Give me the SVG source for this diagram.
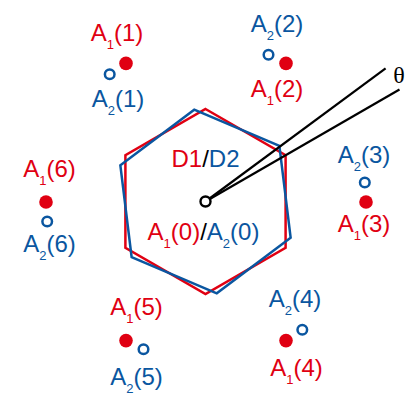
<svg xmlns="http://www.w3.org/2000/svg" width="415" height="415" viewBox="0 0 415 415">
<style>
.t{font-family:"Liberation Sans",Arial,sans-serif;font-size:24px;text-anchor:middle}
.s{font-size:13px}
.r{fill:#e00012}
.b{fill:#0a56a0}
.k{fill:#000}
.hr{fill:none;stroke:#e00012;stroke-width:2.5;stroke-linejoin:miter}
.hb{fill:none;stroke:#0a56a0;stroke-width:2.5;stroke-linejoin:miter}
.dot{fill:#e00012}
.ring{fill:#fff;stroke:#0a56a0;stroke-width:2.5}
</style>
<g id="hexagons">
<polygon id="D1" class="hr" points="0,-92.5 80.1,-46.25 80.1,46.25 0,92.5 -80.1,46.25 -80.1,-46.25" transform="translate(205.5,201.5)"/>
<polygon id="D2" class="hb" points="0,-92.5 80.1,-46.25 80.1,46.25 0,92.5 -80.1,46.25 -80.1,-46.25" transform="translate(205.5,201.5) rotate(-7)"/>
</g>
<g id="connectors" stroke="#000" stroke-width="2.2" fill="none">
<line x1="205.5" y1="201.5" x2="385.6" y2="68.3"/>
<line x1="205.5" y1="201.5" x2="399.5" y2="89.5"/>
</g>
<g id="origin"><circle cx="205.5" cy="201.5" r="5" fill="#fff" stroke="#000" stroke-width="2.4"/></g>
<g id="points">
<circle class="dot" cx="126" cy="63.4" r="6.8"/>
<circle class="dot" cx="286" cy="63.4" r="6.8"/>
<circle class="dot" cx="366" cy="202" r="6.8"/>
<circle class="dot" cx="286" cy="340.6" r="6.8"/>
<circle class="dot" cx="126" cy="340.6" r="6.8"/>
<circle class="dot" cx="46" cy="202" r="6.8"/>
<circle class="ring" cx="109.7" cy="74.2" r="4.8"/>
<circle class="ring" cx="268.5" cy="54.7" r="4.8"/>
<circle class="ring" cx="364.8" cy="182.5" r="4.8"/>
<circle class="ring" cx="302.3" cy="329.8" r="4.8"/>
<circle class="ring" cx="143.5" cy="349.3" r="4.8"/>
<circle class="ring" cx="47.2" cy="221.5" r="4.8"/>
</g>
<g id="labels">
<text class="t r" x="117" y="41">A<tspan class="s" dy="8">1</tspan><tspan dy="-8">(1)</tspan></text>
<text class="t b" x="118" y="107">A<tspan class="s" dy="8">2</tspan><tspan dy="-8">(1)</tspan></text>
<text class="t b" x="277" y="32">A<tspan class="s" dy="8">2</tspan><tspan dy="-8">(2)</tspan></text>
<text class="t r" x="277" y="97">A<tspan class="s" dy="8">1</tspan><tspan dy="-8">(2)</tspan></text>
<text class="t b" x="364" y="163">A<tspan class="s" dy="8">2</tspan><tspan dy="-8">(3)</tspan></text>
<text class="t r" x="364" y="231.5">A<tspan class="s" dy="8">1</tspan><tspan dy="-8">(3)</tspan></text>
<text class="t b" x="295" y="306.5">A<tspan class="s" dy="8">2</tspan><tspan dy="-8">(4)</tspan></text>
<text class="t r" x="296.5" y="376">A<tspan class="s" dy="8">1</tspan><tspan dy="-8">(4)</tspan></text>
<text class="t r" x="136.5" y="315">A<tspan class="s" dy="8">1</tspan><tspan dy="-8">(5)</tspan></text>
<text class="t b" x="136.5" y="385">A<tspan class="s" dy="8">2</tspan><tspan dy="-8">(5)</tspan></text>
<text class="t r" x="49.5" y="177">A<tspan class="s" dy="8">1</tspan><tspan dy="-8">(6)</tspan></text>
<text class="t b" x="49.5" y="251.5">A<tspan class="s" dy="8">2</tspan><tspan dy="-8">(6)</tspan></text>
<text class="t" x="205.5" y="167"><tspan class="r">D1</tspan><tspan class="k">/</tspan><tspan class="b">D2</tspan></text>
<text class="t" x="203.5" y="240"><tspan class="r">A</tspan><tspan class="s r" dy="8">1</tspan><tspan class="r" dy="-8">(0)</tspan><tspan class="k">/</tspan><tspan class="b">A</tspan><tspan class="s b" dy="8">2</tspan><tspan class="b" dy="-8">(0)</tspan></text>
<text x="399" y="83" style="font-family:'Liberation Serif','Times New Roman',serif;font-size:24px;text-anchor:middle">θ</text>
</g>
</svg>
